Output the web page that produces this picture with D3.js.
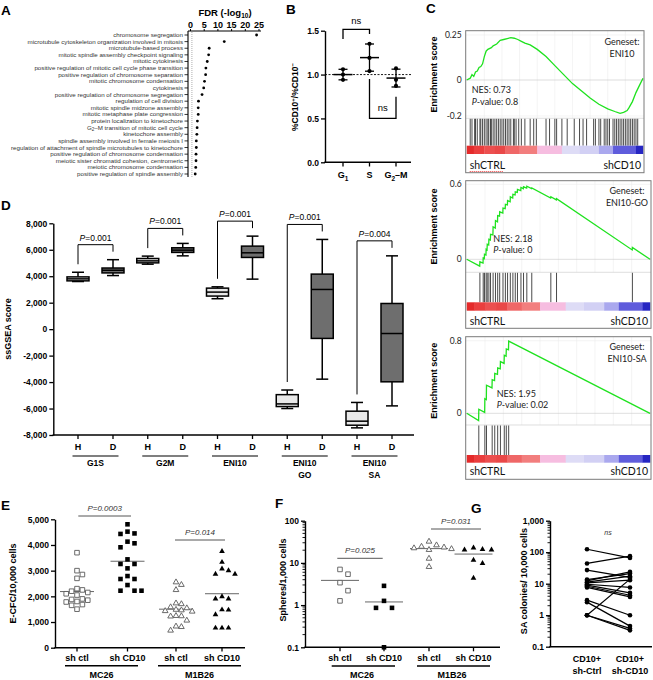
<!DOCTYPE html>
<html><head><meta charset="utf-8">
<script src="https://cdn.jsdelivr.net/npm/d3@7"></script>
<style>
body{margin:0;background:#fff}
svg{display:block}
</style></head><body>
<svg id="fig" width="653" height="680"></svg>
<script>
// ================= DATA =================
// Panel A
const goTerms = [
"chromosome segregation",
"microtubule cytoskeleton organization involved in mitosis",
"microtubule-based process",
"mitotic spindle assembly checkpoint signaling",
"mitotic cytokinesis",
"positive regulation of mitotic cell cycle phase transition",
"positive regulation of chromosome separation",
"mitotic chromosome condensation",
"cytokinesis",
"positive regulation of chromosome segregation",
"regulation of cell division",
"mitotic spindle midzone assembly",
"mitotic metaphase plate congression",
"protein localization to kinetochore",
"G2–M transition of mitotic cell cycle",
"kinetochore assembly",
"spindle assembly involved in female meiosis I",
"regulation of attachment of spindle microtubules to kinetochore",
"positive regulation of chromosome condensation",
"meiotic sister chromatid cohesion, centromeric",
"meiotic chromosome condensation",
"positive regulation of spindle assembly"];
const goFDR = [24.3,12.5,7.0,6.8,6.3,5.8,5.7,5.3,5.0,4.4,3.1,3.0,3.0,2.7,2.6,2.5,2.3,2.3,2.2,2.2,2.1,1.9];
const fdrTicks = [0,5,10,15,20,25];
const fdrThreshold = 0.7;

// Panel B
const bPhases = ["G1","S","G2–M"];
const bG1 = [1.06,1.00,0.94];
const bS = [1.35,1.19,1.04];
const bG2M = [1.07,0.94,0.87];
const bTicks = [0,0.5,1.0,1.5];

// Panel C (rank in % of ranked list, enrichment score)
const gseaNames = ["ENI10","ENI10-GO","ENI10-SA"];
const gseaNES = ["0.73","2.18","1.95"];
const gseaP = ["0.8","0","0.02"];
const gseaCurve1 = [[0,0],[2,0.01],[3,0.03],[4,0.02],[5,0.045],[6,0.05],[7,0.07],[8,0.075],[9,0.09],[10,0.13],[11,0.16],[12,0.17],[14,0.18],[15,0.19],[17,0.2],[19,0.22],[21,0.225],[23,0.23],[25,0.235],[27,0.232],[29,0.225],[31,0.215],[33,0.205],[36,0.195],[40,0.17],[45,0.13],[50,0.08],[55,0.03],[60,-0.02],[65,-0.06],[70,-0.1],[75,-0.135],[80,-0.16],[84,-0.175],[87,-0.185],[89,-0.18],[91,-0.17],[92,-0.155],[94,-0.12],[96,-0.07],[98,-0.03],[100,0.01]];
const gseaHits1 = [2,3,4.5,5,6,7.5,8,9,10,11,12,12.5,13.5,14,15,16,17,18,19,20,21,22,23,24,25,26.5,27,28,29.5,31,33,36,38,39.5,45,47,50,51,54,57,61,64,66,68,72,73,75,76,78,79,80,81,83,84,85,86,87,88,89,90,91,92,93,94,95,96,97];
const gseaCurve2 = [[0,0],[7.1,-0.055],[7.2,-0.02],[8.9,-0.03],[9,0.01],[9.6,0.005],[9.7,0.04],[10.5,0.035],[10.6,0.08],[11.1,0.075],[11.2,0.12],[12,0.115],[12.1,0.16],[12.9,0.155],[13,0.2],[14.3,0.195],[14.4,0.26],[15.6,0.25],[15.7,0.31],[16.8,0.3],[16.9,0.35],[17.9,0.345],[18,0.38],[19.7,0.37],[19.8,0.41],[21,0.405],[21.1,0.44],[22.2,0.435],[22.3,0.47],[23.7,0.46],[23.8,0.5],[25.1,0.49],[25.2,0.52],[26.4,0.515],[26.5,0.54],[27.6,0.535],[27.7,0.56],[29.5,0.55],[29.6,0.575],[30.9,0.565],[31,0.58],[32.7,0.57],[32.8,0.585],[35.4,0.565],[35.5,0.57],[45.8,0.49],[45.9,0.5],[48.9,0.475],[49,0.485],[90.3,0.075],[90.4,0.095],[100,0]];
const gseaHits2 = [7.2,9.0,9.7,10.6,11.2,12.1,13.0,14.4,15.7,16.9,18.0,19.8,21.1,22.3,23.8,25.2,26.5,27.7,29.6,31.0,32.8,35.5,45.9,49.0,90.4];
const gseaCurve3 = [[0,0],[6.5,-0.08],[6.6,0.045],[9.8,0.01],[9.9,0.16],[10.7,0.15],[10.8,0.31],[13.8,0.28],[13.9,0.37],[15.2,0.36],[15.3,0.44],[16.8,0.43],[16.9,0.5],[18.3,0.49],[18.4,0.57],[20.4,0.55],[20.5,0.64],[21.5,0.63],[21.6,0.71],[22.8,0.7],[22.9,0.795],[100,0]];
const gseaHits3 = [6.6,9.9,10.8,13.9,15.3,16.9,18.4,20.5,21.6,22.9];
const rankBands = [[0,4,"#e42a2a"],[4,10,"#ea3e3e"],[10,16,"#ec4f4f"],[16,22,"#e94848"],[22,30,"#ef6767"],[30,40,"#f27e7e"],[40,54,"#f6bde0"],[54,64,"#dedcf6"],[64,75,"#d2d0f4"],[75,83,"#aaa8ee"],[83,96,"#5f5cdc"],[96,100,"#2626c2"]];

// Panel D  [min, q1, median, q3, max]
const dGroups = [["G1S"],["G2M"],["ENI10"],["ENI10","GO"],["ENI10","SA"]];
const dHealthy = [[3600,3650,3800,3950,4300],[4910,5010,5160,5340,5520],[2300,2500,2800,3100,3200],[-6000,-5850,-5650,-4950,-4600],[-7460,-7260,-6955,-6200,-5540]];
const dDisease = [[4050,4250,4450,4620,5250],[5540,5800,5970,6150,6480],[3780,5420,5770,6275,7030],[-3780,-700,3000,4160,6780],[-5800,-3980,-330,1940,5540]];
const dPvals = ["0.001","0.001","0.001","0.001","0.004"];
const dTicks = [-8000,-6000,-4000,-2000,0,2000,4000,6000,8000];

// Panel E
const eCats = ["sh ctl","sh CD10","sh ctl","sh CD10"];
const eLines = ["MC26","M1B26"];
const eMC26ctl = [3700,3000,2850,2700,2300,2250,2200,2150,2100,2050,1900,1880,1850,1800,1780,1680,1650,1500];
const eMC26cd10 = [4805,4520,4450,4430,4130,4065,3910,3440,3260,3260,3090,2790,2675,2675,2440,2220,2220,2220];
const eM1B26ctl = [2570,2470,2270,1750,1720,1600,1560,1500,1480,1450,1430,1260,1250,1240,1080,850,830,690];
const eM1B26cd10 = [3770,3350,3090,3020,2890,2890,2010,1920,1920,1500,1490,1310,790,790,790];
const ePvals = ["P=0.0003","P=0.014"];
const eTicks = [0,1000,2000,3000,4000,5000];

// Panel F
const fMC26ctl = [7.0,5.4,3.4,2.2,1.26];
const fMC26cd10 = [2.86,1.26,0.86,0.86,0.1];
const fM1B26ctl = [33,27,25,24,23,22,21,13,8.3];
const fM1B26cd10 = [23.3,21.5,21,21,12,10,4.5];
const fPvals = ["P=0.025","P=0.031"];
const fTicks = [0.1,1,10,100];

// Panel G (paired)
const gCtrl = [124,44,27,13.5,12.3,11.2,10.6,9.6,9.0,8.3,7.6,3.0,2.6,1.0,1.0,1.0];
const gCD10 = [66,75,15.8,21,23.7,17.3,12.9,7.6,5.1,4.3,3.8,1.0,0.45,14,0.38,0.33];
const gCats = [["CD10+","sh-Ctrl"],["CD10+","sh-CD10"]];
const gTicks = [0.1,1,10,100,1000];

// ================= DRAWING =================
const FONT = "'Liberation Sans', Arial, sans-serif";
const CFONT = "Lato, 'Open Sans', sans-serif";
const svg = d3.select("#fig").attr("font-family", FONT);

function T(x, y, s, o = {}) {
  const t = svg.append("text").attr("x", x).attr("y", y).text(s)
    .attr("font-size", o.size || 8.5)
    .attr("font-weight", o.bold ? "bold" : "normal")
    .attr("text-anchor", o.anchor || "start")
    .attr("fill", o.fill || "#000");
  if (o.italic) t.attr("font-style", "italic");
  if (o.family) t.attr("font-family", o.family);
  if (o.rotate) t.attr("transform", `rotate(-90,${x},${y})`);
  return t;
}
function L(x1, y1, x2, y2, w = 1.3, c = "#000", dash) {
  const l = svg.append("line").attr("x1", x1).attr("y1", y1).attr("x2", x2).attr("y2", y2)
    .attr("stroke", c).attr("stroke-width", w);
  if (dash) l.attr("stroke-dasharray", dash);
  return l;
}
function leftAxis(scale, x, ticks, fmt, fs = 8.5) {
  const g = svg.append("g").attr("transform", `translate(${x},0)`)
    .call(d3.axisLeft(scale).tickValues(ticks).tickFormat(fmt).tickSize(4).tickSizeOuter(0).tickPadding(2));
  g.select(".domain").attr("stroke-width", 1.4);
  g.selectAll(".tick line").attr("stroke-width", 1.3);
  g.selectAll("text").attr("font-size", fs).attr("font-weight", "bold").attr("font-family", FONT).attr("fill", "#000");
  return g;
}
function minorLog(scale, x, lo, hi) {
  for (let e = lo; e < hi; e++) for (let k = 2; k <= 9; k++) {
    const v = k * Math.pow(10, e);
    L(x - 2.5, scale(v), x, scale(v), 0.9);
  }
}
function panelLabel(x, y, s) { T(x, y, s, {size: 13.5, bold: true}); }

panelLabel(1, 15, "A"); panelLabel(286, 14, "B"); panelLabel(426, 13, "C");
panelLabel(1, 210, "D"); panelLabel(1, 510, "E"); panelLabel(275, 508, "F"); panelLabel(471, 513, "G");

// ---------- Panel A ----------
{
  const xA = d3.scaleLinear().domain([0, 25]).range([190, 258.5]);
  const yA = d3.scalePoint().domain(goTerms).range([35, 174]);
  const ax = svg.append("g").attr("transform", "translate(0,31)")
    .call(d3.axisTop(xA).tickValues(fdrTicks).tickSize(2).tickSizeOuter(0).tickPadding(1));
  ax.select(".domain").remove();
  ax.selectAll("text").attr("font-size", 9).attr("font-weight", "bold").attr("font-family", FONT);
  L(188, 31, 261, 31, 1.1);
  L(188, 31, 188, 177, 1.1);
  L(xA(fdrThreshold), 32, xA(fdrThreshold), 177, 0.8, "#999", "1,1");
  const t = T(225, 15.5, "FDR (-log", {size: 9.5, bold: true, anchor: "middle"});
  t.append("tspan").attr("dy", 2.2).attr("font-size", 6.5).text("10");
  t.append("tspan").attr("dy", -2.2).text(")");
  goTerms.forEach((term, i) => {
    const y = yA(term);
    L(184.5, y, 188, y, 0.8);
    const lab = svg.append("text").attr("x", 183).attr("y", y + 2).attr("text-anchor", "end")
      .attr("font-size", 6.2).attr("fill", "#333");
    if (term.startsWith("G2–M")) {
      lab.append("tspan").text("G");
      lab.append("tspan").attr("dy", 1.5).attr("font-size", 4.5).text("2");
      lab.append("tspan").attr("dy", -1.5).text(term.slice(2));
    } else lab.text(term);
    svg.append("circle").attr("cx", xA(goFDR[i])).attr("cy", y).attr("r", 1.4).attr("fill", "#000");
  });
}

// ---------- Panel B ----------
{
  const yB = d3.scaleLinear().domain([0, 1.5]).range([162.3, 30.7]);
  const xB = d3.scalePoint().domain(bPhases).range([343, 396]);
  leftAxis(yB, 325, bTicks, d3.format(".1f"), 8.5);
  L(324.3, 162.3, 411, 162.3, 1.4);
  L(325, yB(1), 411, yB(1), 0.9, "#000", "2,1.5");
  bPhases.forEach(p => L(xB(p), 162.3, xB(p), 166.5, 1.3));
  const labs = [["G", "1", ""], ["S", "", ""], ["G", "2", "–M"]];
  bPhases.forEach((p, i) => {
    const t = T(xB(p), 178, labs[i][0], {size: 9, bold: true, anchor: "middle"});
    if (labs[i][1]) {
      t.append("tspan").attr("dy", 2.5).attr("font-size", 6.5).text(labs[i][1]);
      if (labs[i][2]) t.append("tspan").attr("dy", -2.5).text(labs[i][2]);
    }
  });
  const tt = T(298, 97, "%CD10", {size: 8.5, bold: true, anchor: "middle", rotate: true});
  tt.append("tspan").attr("dy", -3).attr("font-size", 6).text("+");
  tt.append("tspan").attr("dy", 3).text("/%CD10");
  tt.append("tspan").attr("dy", -3).attr("font-size", 6).text("−");
  [bG1, bS, bG2M].forEach((vals, i) => {
    const x = xB(bPhases[i]);
    const m = d3.mean(vals), sd = d3.deviation(vals);
    L(x, yB(m + sd), x, yB(m - sd), 1.3);
    L(x - 4.5, yB(m + sd), x + 4.5, yB(m + sd), 1.3);
    L(x - 4.5, yB(m - sd), x + 4.5, yB(m - sd), 1.3);
    L(x - 9.5, yB(m), x + 9.5, yB(m), 1.5);
    vals.forEach(v => svg.append("circle").attr("cx", x).attr("cy", yB(v)).attr("r", 2.1).attr("fill", "#000"));
  });
  const xs = xB("S"), x1 = xB("G1"), x3 = xB("G2–M");
  svg.append("path").attr("d", `M${x1},39V29.3H${xs}V34`).attr("fill", "none").attr("stroke", "#000").attr("stroke-width", 1.3);
  T((x1 + xs) / 2, 24, "ns", {size: 9.5, anchor: "middle"});
  svg.append("path").attr("d", `M${xs},79V118.3H${x3}V96.7`).attr("fill", "none").attr("stroke", "#000").attr("stroke-width", 1.3);
  T((xs + x3) / 2, 111, "ns", {size: 9.5, anchor: "middle"});
}

// ---------- Panel C ----------
{
  const layout = [
    {l: 465.7, r: 644, t: 30.7, es: 118.3, hit: 145.7, bar: 154, b: 172.7, y0: 80, y1: 35, v1: 0.25, ticks: [0.25, 0, -0.2], gx: 622, gy: [45, 57], nx: 471.7, ny: [93, 104.5], lab: 169},
    {l: 465.7, r: 651, t: 180.7, es: 272.3, hit: 302.3, bar: 310.7, b: 328.3, y0: 259.3, y1: 184.3, v1: 0.6, ticks: [0.6, 0], gx: 627, gy: [193.5, 205.5], nx: 493.3, ny: [241.5, 253], lab: 324.5},
    {l: 465.7, r: 651, t: 336.7, es: 425, hit: 455, bar: 462.7, b: 479.3, y0: 413.3, y1: 340.7, v1: 0.8, ticks: [0.8, 0], gx: 627, gy: [350, 362], nx: 496.7, ny: [396.5, 408], lab: 475}
  ];
  const curves = [gseaCurve1, gseaCurve2, gseaCurve3];
  const hits = [gseaHits1, gseaHits2, gseaHits3];
  layout.forEach((P, i) => {
    const x = d3.scaleLinear().domain([0, 100]).range([P.l + 1, P.r - 1]);
    const y = d3.scaleLinear().domain([0, P.v1]).range([P.y0, P.y1]);
    d3.range(10, 100, 10).forEach(v => L(x(v), P.t, x(v), P.es, 0.6, "#ececec"));
    P.ticks.forEach(v => L(P.l, y(v), P.r, y(v), 0.6, v === 0 ? "#c8c8c8" : "#ececec"));
    L(P.l, P.es, P.r, P.es, 0.7, "#d0d0d0");
    hits[i].forEach(h => L(x(h), P.es + 0.5, x(h), P.hit, 0.85, "#2a2a2a"));
    rankBands.forEach(([a, b, c]) => svg.append("rect").attr("x", x(a)).attr("y", P.hit)
      .attr("width", x(b) - x(a) + 0.3).attr("height", P.bar - P.hit).attr("fill", c));
    svg.append("path").datum(curves[i])
      .attr("d", d3.line().x(d => x(d[0])).y(d => y(d[1])))
      .attr("fill", "none").attr("stroke", "#1fe21f").attr("stroke-width", 1.3);
    svg.append("rect").attr("x", P.l).attr("y", P.t).attr("width", P.r - P.l).attr("height", P.b - P.t)
      .attr("fill", "none").attr("stroke", "#7a7a7a").attr("stroke-width", 1);
    P.ticks.forEach(v => T(P.l - 4, y(v) + 3, v === 0 ? "0" : String(v), {size: 8.5, anchor: "end", family: CFONT, fill: "#222"}));
    T(437, (P.t + P.es) / 2, "Enrichment score", {size: 9, bold: true, anchor: "middle", rotate: true});
    T(P.gx, P.gy[0], "Geneset:", {size: 9, anchor: "middle", family: CFONT, fill: "#222"});
    T(P.gx, P.gy[1], gseaNames[i], {size: 9, anchor: "middle", family: CFONT, fill: "#222"});
    T(P.nx, P.ny[0], "NES: " + gseaNES[i], {size: 9, family: CFONT, fill: "#222"});
    const pt = T(P.nx, P.ny[1], "P", {size: 9, italic: true, family: CFONT, fill: "#222"});
    pt.append("tspan").attr("font-style", "normal").text("-value: " + gseaP[i]);
    T(P.l + 4, P.lab, "shCTRL", {size: 10.5, family: CFONT, fill: "#111"});
    T(P.r - 3, P.lab, "shCD10", {size: 10.5, family: CFONT, fill: "#111", anchor: "end"});
    if (i === 0) L(P.l + 4, P.lab + 2.5, P.l + 38, P.lab + 2.5, 0.8, "#e33", "1.2,0.8");
  });
}

// ---------- Panel D ----------
{
  const yD = d3.scaleLinear().domain([-8000, 8000]).range([435, 223.3]);
  const cx = d3.scalePoint().domain(d3.range(dGroups.length)).range([95.5, 374.5]);
  const fmt = d => d3.format(",")(d).replace("−", "-");
  leftAxis(yD, 53.3, dTicks, fmt, 8.5);
  L(52.6, 435, 414, 435, 1.4);
  T(11, 329, "ssGSEA score", {size: 9, bold: true, anchor: "middle", rotate: true});
  dGroups.forEach((grp, i) => {
    const c = cx(i);
    [[dHealthy[i], c - 17.5, "#e8e8e8", "H"], [dDisease[i], c + 17.5, "#6e6e6e", "D"]].forEach(([s, x, fill, lab]) => {
      const [mn, q1, md, q3, mx] = s;
      L(x, yD(mx), x, yD(q3), 1.5); L(x, yD(q1), x, yD(mn), 1.5);
      L(x - 6, yD(mx), x + 6, yD(mx), 1.5); L(x - 6, yD(mn), x + 6, yD(mn), 1.5);
      svg.append("rect").attr("x", x - 11).attr("y", yD(q3)).attr("width", 22).attr("height", yD(q1) - yD(q3))
        .attr("fill", fill).attr("stroke", "#000").attr("stroke-width", 1.5);
      L(x - 11, yD(md), x + 11, yD(md), 1.5);
      L(x, 435, x, 439, 1.3);
      T(x, 450, lab, {size: 9, bold: true, anchor: "middle"});
    });
    L(c - 23, 456, c + 23, 456, 1.2);
    grp.forEach((g, k) => T(c, 466 + k * 12, g, {size: 8.5, bold: true, anchor: "middle"}));
    const yl = yD(dHealthy[i][4]) - 8, yr = yD(dDisease[i][4]) - 8;
    const top = Math.min(yr - 7, 247);
    svg.append("path").attr("d", `M${c - 17.5},${yl}V${top}H${c + 17.5}V${yr}`)
      .attr("fill", "none").attr("stroke", "#000").attr("stroke-width", 1);
    const pt = T(c, top - 4, "P", {size: 8.5, italic: true, anchor: "middle"});
    pt.append("tspan").attr("font-style", "normal").text("=" + dPvals[i]);
  });
}

// ---------- scatter helpers ----------
function dodge(vals, yS, minD, step) {
  const pts = vals.map(v => ({v, y: yS(v)})).sort((a, b) => b.v - a.v);
  const placed = [];
  for (const p of pts) {
    for (let k = 0; k < 80; k++) {
      const off = (k % 2 ? 1 : -1) * Math.ceil(k / 2) * step;
      if (placed.every(q => Math.abs(q.x - off) >= minD || Math.abs(q.y - p.y) >= minD)) { p.x = off; break; }
    }
    placed.push(p);
  }
  return placed;
}
function scatter(vals, cx, yS, shape, filled, meanHalf, minD = 5.4) {
  const m = d3.mean(vals);
  L(cx - meanHalf, yS(m), cx + meanHalf, yS(m), 1, "#666");
  const pts = dodge(vals, yS, minD, minD / 2);
  const sym = d3.symbol().type(shape).size(shape === d3.symbolSquare ? 21 : 14);
  svg.append("g").selectAll("path").data(pts).join("path")
    .attr("d", sym).attr("transform", p => `translate(${cx + p.x},${p.y + (shape === d3.symbolTriangle ? 0.5 : 0)})`)
    .attr("fill", filled ? "#000" : "#fff").attr("stroke", filled ? "none" : "#5a5a5a").attr("stroke-width", 0.9);
}
function pLabel(x1, x2, y, s) {
  L(x1, y, x2, y, 1, "#555");
  T((x1 + x2) / 2, y - 5, s, {size: 8, italic: true, anchor: "middle", fill: "#333"});
}

// ---------- Panel E ----------
{
  const yE = d3.scaleLinear().domain([0, 5000]).range([647.7, 519.3]);
  const xE = [77, 127.5, 176, 222];
  leftAxis(yE, 55, eTicks, d3.format(","), 8.5);
  L(54.3, 647.7, 245, 647.7, 1.4);
  T(16, 583.5, "E-CFC/10,000 cells", {size: 9, bold: true, anchor: "middle", rotate: true});
  eCats.forEach((c, i) => { L(xE[i], 647.7, xE[i], 651.5, 1.3); T(xE[i], 660.5, c, {size: 9, bold: true, anchor: "middle"}); });
  L(65, 665.7, 138, 665.7, 1.5); L(158, 665.7, 241, 665.7, 1.5);
  T(101.5, 677.5, eLines[0], {size: 9, bold: true, anchor: "middle"});
  T(199.5, 677.5, eLines[1], {size: 9, bold: true, anchor: "middle"});
  scatter(eMC26ctl, xE[0], yE, d3.symbolSquare, false, 17);
  scatter(eMC26cd10, xE[1], yE, d3.symbolSquare, true, 17, 7);
  scatter(eM1B26ctl, xE[2], yE, d3.symbolTriangle, false, 17);
  scatter(eM1B26cd10, xE[3], yE, d3.symbolTriangle, true, 17, 6.5);
  pLabel(78.3, 131, 516, ePvals[0]);
  pLabel(175, 225, 540, ePvals[1]);
}

// ---------- Panel F ----------
{
  const yF = d3.scaleLog().domain([0.1, 100]).range([647.3, 520.7]);
  const xF = [340, 384, 429, 473.5];
  leftAxis(yF, 305, fTicks, d => d < 1 ? "0.1" : d3.format(",")(d), 8.5);
  minorLog(yF, 305, -1, 2);
  L(304.3, 647.3, 500, 647.3, 1.4);
  T(286, 580, "Spheres/1,000 cells", {size: 9, bold: true, anchor: "middle", rotate: true});
  eCats.forEach((c, i) => { L(xF[i], 647.3, xF[i], 651.3, 1.3); T(xF[i], 660.5, c, {size: 9, bold: true, anchor: "middle"}); });
  L(331.7, 666, 395, 666, 1.5); L(417, 666, 490, 666, 1.5);
  T(362, 677.5, eLines[0], {size: 9, bold: true, anchor: "middle"});
  T(452, 677.5, eLines[1], {size: 9, bold: true, anchor: "middle"});
  scatter(fMC26ctl, xF[0], yF, d3.symbolSquare, false, 19, 8);
  scatter(fMC26cd10, xF[1], yF, d3.symbolSquare, true, 19, 8);
  scatter(fM1B26ctl, xF[2], yF, d3.symbolTriangle, false, 19, 7.5);
  scatter(fM1B26cd10, xF[3], yF, d3.symbolTriangle, true, 19, 9);
  pLabel(337.3, 382.7, 558.3, fPvals[0]);
  pLabel(431, 481, 529, fPvals[1]);
}

// ---------- Panel G ----------
{
  const yG = d3.scaleLog().domain([0.1, 1000]).range([646.7, 520.7]);
  const xG = [587, 630];
  leftAxis(yG, 550, gTicks, d => d < 1 ? "0.1" : d3.format(",")(d), 8.5);
  minorLog(yG, 550, -1, 3);
  L(549.3, 646.7, 652, 646.7, 1.4);
  T(527, 581, "SA colonies/ 10,000 cells", {size: 9, bold: true, anchor: "middle", rotate: true});
  gCats.forEach((c, i) => {
    T(xG[i], 662, c[0], {size: 9, bold: true, anchor: "middle"});
    T(xG[i], 674, c[1], {size: 9, bold: true, anchor: "middle"});
  });
  T(608, 534.5, "ns", {size: 7, italic: true, anchor: "middle", fill: "#333"});
  gCtrl.forEach((v, i) => L(xG[0], yG(v), xG[1], yG(gCD10[i]), 1.2));
  gCtrl.forEach(v => svg.append("circle").attr("cx", xG[0]).attr("cy", yG(v)).attr("r", 2.3).attr("fill", "#000"));
  gCD10.forEach(v => svg.append("circle").attr("cx", xG[1]).attr("cy", yG(v)).attr("r", 2.3).attr("fill", "#000"));
}
</script>
</body></html>
